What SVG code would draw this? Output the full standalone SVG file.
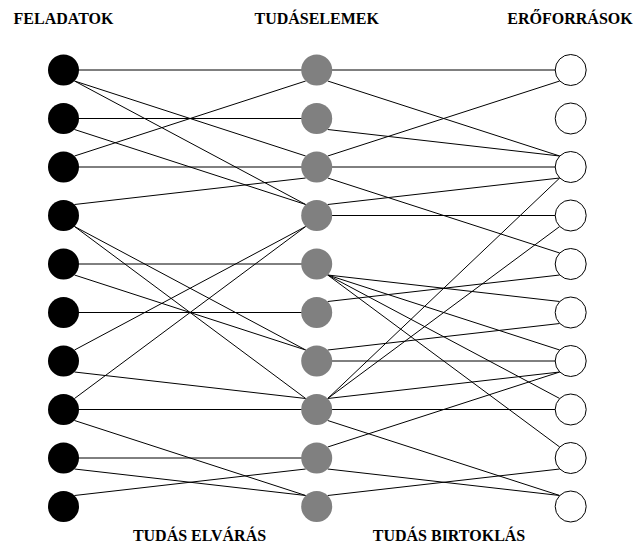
<svg xmlns="http://www.w3.org/2000/svg" width="634" height="544" viewBox="0 0 634 544">
<style>
.t{font-family:"Liberation Serif","Times New Roman",serif;font-weight:bold;font-size:16px;fill:#000;text-anchor:middle}
.e{stroke:#000;stroke-width:1;fill:none}
.f{fill:#000}
.k{fill:#808080}
.r{fill:#fff;stroke:#000;stroke-width:1}
</style>
<rect width="634" height="544" fill="#fff"/>
<g id="headers">
<text class="t" x="63.5" y="24">FELADATOK</text>
<text class="t" x="316.7" y="24">TUDÁSELEMEK</text>
<text class="t" x="570" y="24">ERŐFORRÁSOK</text>
<text class="t" x="199.5" y="540.5">TUDÁS ELVÁRÁS</text>
<text class="t" x="449" y="540.5">TUDÁS BIRTOKLÁS</text>
</g>
<g id="connectors" class="e">
<line x1="63.5" y1="70" x2="316.7" y2="70"/>
<line x1="74.5" y1="81" x2="305.7" y2="156"/>
<line x1="74.5" y1="81" x2="305.7" y2="204.5"/>
<line x1="63.5" y1="118.5" x2="316.7" y2="118.5"/>
<line x1="74.5" y1="129.5" x2="305.7" y2="204.5"/>
<line x1="74.5" y1="156" x2="305.7" y2="81"/>
<line x1="63.5" y1="167" x2="316.7" y2="167"/>
<line x1="74.5" y1="204.5" x2="305.7" y2="178"/>
<line x1="74.5" y1="226.5" x2="305.7" y2="350"/>
<line x1="74.5" y1="226.5" x2="305.7" y2="398.5"/>
<line x1="63.5" y1="264" x2="316.7" y2="264"/>
<line x1="74.5" y1="275" x2="305.7" y2="350"/>
<line x1="63.5" y1="312.5" x2="316.7" y2="312.5"/>
<line x1="74.5" y1="350" x2="305.7" y2="226.5"/>
<line x1="74.5" y1="372" x2="305.7" y2="398.5"/>
<line x1="74.5" y1="398.5" x2="305.7" y2="226.5"/>
<line x1="63.5" y1="409.5" x2="316.7" y2="409.5"/>
<line x1="74.5" y1="420.5" x2="305.7" y2="495.5"/>
<line x1="63.5" y1="458" x2="316.7" y2="458"/>
<line x1="74.5" y1="469" x2="305.7" y2="495.5"/>
<line x1="74.5" y1="495.5" x2="305.7" y2="469"/>

<line x1="316.7" y1="70" x2="570.7" y2="70"/>
<line x1="327.7" y1="81" x2="559.7" y2="156"/>
<line x1="327.7" y1="129.5" x2="559.7" y2="156"/>
<line x1="327.7" y1="156" x2="559.7" y2="81"/>
<line x1="316.7" y1="167" x2="570.7" y2="167"/>
<line x1="327.7" y1="178" x2="559.7" y2="253"/>
<line x1="327.7" y1="204.5" x2="559.7" y2="178"/>
<line x1="316.7" y1="215.5" x2="570.7" y2="215.5"/>
<line x1="327.7" y1="275" x2="559.7" y2="301.5"/>
<line x1="327.7" y1="275" x2="559.7" y2="350"/>
<line x1="327.7" y1="275" x2="559.7" y2="398.5"/>
<line x1="327.7" y1="275" x2="559.7" y2="447"/>
<line x1="327.7" y1="301.5" x2="559.7" y2="275"/>
<line x1="327.7" y1="350" x2="559.7" y2="323.5"/>
<line x1="316.7" y1="361" x2="570.7" y2="361"/>
<line x1="327.7" y1="398.5" x2="559.7" y2="178"/>
<line x1="327.7" y1="398.5" x2="559.7" y2="226.5"/>
<line x1="327.7" y1="398.5" x2="559.7" y2="372"/>
<line x1="316.7" y1="409.5" x2="570.7" y2="409.5"/>
<line x1="327.7" y1="420.5" x2="559.7" y2="495.5"/>
<line x1="327.7" y1="447" x2="559.7" y2="372"/>
<line x1="327.7" y1="469" x2="559.7" y2="495.5"/>
<line x1="327.7" y1="495.5" x2="559.7" y2="469"/>
</g>
<g id="L0"><circle class="f" cx="63.5" cy="70" r="15.5"/></g>
<g id="L1"><circle class="f" cx="63.5" cy="118.5" r="15.5"/></g>
<g id="L2"><circle class="f" cx="63.5" cy="167" r="15.5"/></g>
<g id="L3"><circle class="f" cx="63.5" cy="215.5" r="15.5"/></g>
<g id="L4"><circle class="f" cx="63.5" cy="264" r="15.5"/></g>
<g id="L5"><circle class="f" cx="63.5" cy="312.5" r="15.5"/></g>
<g id="L6"><circle class="f" cx="63.5" cy="361" r="15.5"/></g>
<g id="L7"><circle class="f" cx="63.5" cy="409.5" r="15.5"/></g>
<g id="L8"><circle class="f" cx="63.5" cy="458" r="15.5"/></g>
<g id="L9"><circle class="f" cx="63.5" cy="506.5" r="15.5"/></g>
<g id="M0"><circle class="k" cx="316.7" cy="70" r="15.5"/></g>
<g id="M1"><circle class="k" cx="316.7" cy="118.5" r="15.5"/></g>
<g id="M2"><circle class="k" cx="316.7" cy="167" r="15.5"/></g>
<g id="M3"><circle class="k" cx="316.7" cy="215.5" r="15.5"/></g>
<g id="M4"><circle class="k" cx="316.7" cy="264" r="15.5"/></g>
<g id="M5"><circle class="k" cx="316.7" cy="312.5" r="15.5"/></g>
<g id="M6"><circle class="k" cx="316.7" cy="361" r="15.5"/></g>
<g id="M7"><circle class="k" cx="316.7" cy="409.5" r="15.5"/></g>
<g id="M8"><circle class="k" cx="316.7" cy="458" r="15.5"/></g>
<g id="M9"><circle class="k" cx="316.7" cy="506.5" r="15.5"/></g>
<g id="R0"><circle class="r" cx="570.7" cy="70" r="15.5"/></g>
<g id="R1"><circle class="r" cx="570.7" cy="118.5" r="15.5"/></g>
<g id="R2"><circle class="r" cx="570.7" cy="167" r="15.5"/></g>
<g id="R3"><circle class="r" cx="570.7" cy="215.5" r="15.5"/></g>
<g id="R4"><circle class="r" cx="570.7" cy="264" r="15.5"/></g>
<g id="R5"><circle class="r" cx="570.7" cy="312.5" r="15.5"/></g>
<g id="R6"><circle class="r" cx="570.7" cy="361" r="15.5"/></g>
<g id="R7"><circle class="r" cx="570.7" cy="409.5" r="15.5"/></g>
<g id="R8"><circle class="r" cx="570.7" cy="458" r="15.5"/></g>
<g id="R9"><circle class="r" cx="570.7" cy="506.5" r="15.5"/></g>
</svg>
